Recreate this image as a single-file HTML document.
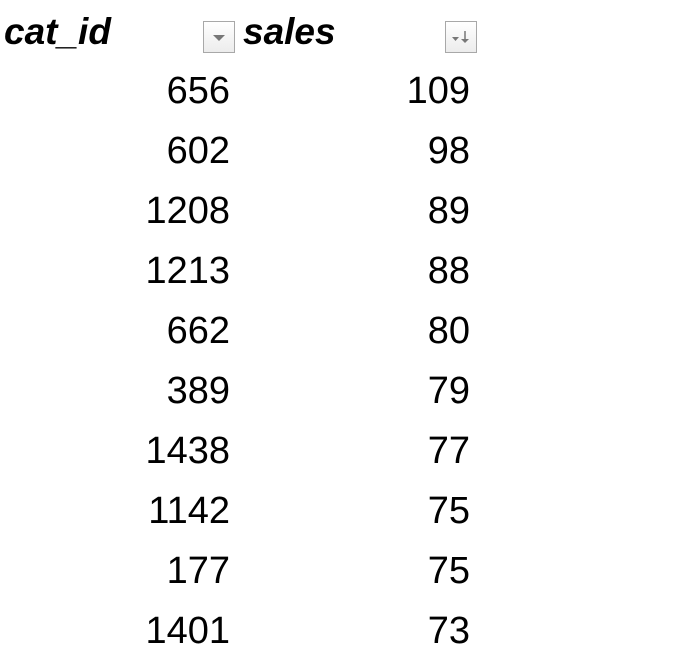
<!DOCTYPE html>
<html><head><meta charset="utf-8"><style>
body{margin:0;width:678px;height:662px;background:#fff;font-family:"Liberation Sans",sans-serif;position:relative;overflow:hidden}
.h{position:absolute;top:10px;font-weight:bold;font-style:italic;font-size:37px;line-height:44px;color:#000}
.btn{position:absolute;top:21px;width:32px;height:32px;border:1px solid #a8a8a8;background:linear-gradient(#fff,#ececec);box-sizing:border-box}
.c{position:absolute;font-size:38px;line-height:44px;text-align:right;color:#000}
</style></head><body>
<div class="h" style="left:4px">cat_id</div>
<div class="btn" style="left:203px"><svg width="30" height="30"><polygon points="9,13 21,13 15,19" fill="#777"/></svg></div>
<div class="h" style="left:243px">sales</div>
<div class="btn" style="left:445px"><svg width="30" height="30"><polygon points="6,15 13,15 9.5,19" fill="#777"/><line x1="19" y1="9" x2="19" y2="20" stroke="#777" stroke-width="1.5"/><polygon points="15,17 23,17 19,21" fill="#777"/></svg></div>
<div id="rows"></div>
<script>
const catIds=[656,602,1208,1213,662,389,1438,1142,177,1401];
const sales=[109,98,89,88,80,79,77,75,75,73];
const rows=document.getElementById('rows');
catIds.forEach((id,i)=>{
 const y=69+60*i;
 const a=document.createElement('div');
 a.className='c';a.style.left='100px';a.style.width='130px';a.style.top=y+'px';a.textContent=id;
 
 
 rows.appendChild(a);
 const b=document.createElement('div');
 b.className='c';b.style.left='340px';b.style.width='130px';b.style.top=y+'px';b.textContent=sales[i];
 
 
 rows.appendChild(b);
});
</script>
</body></html>
